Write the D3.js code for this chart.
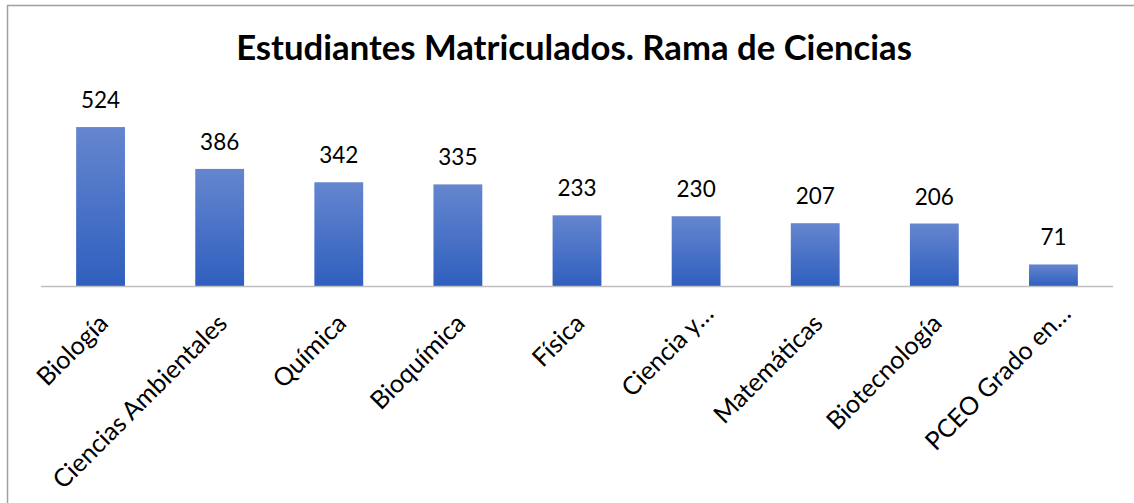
<!DOCTYPE html>
<html>
<head>
<meta charset="utf-8">
<script src="https://cdn.jsdelivr.net/npm/d3@7"></script>
<style>
  body { margin: 0; background: #fff; }
  text { font-family: Lato, "Open Sans", sans-serif; fill: #000; }
</style>
</head>
<body>
<div id="chart"></div>
<script>
// chart data
const categories = ["Biología", "Ciencias Ambientales", "Química", "Bioquímica", "Física",
                    "Ciencia y…", "Matemáticas", "Biotecnología", "PCEO Grado en…"];
const students = [524, 386, 342, 335, 233, 230, 207, 206, 71];
const chartTitle = "Estudiantes Matriculados. Rama de Ciencias";

const W = 1134, H = 503;
const margin = {top: 104, right: 21, bottom: 217, left: 41};

const svg = d3.select("#chart").append("svg")
    .attr("width", W)
    .attr("height", H);

// gradient fill like the spreadsheet bars
const grad = svg.append("defs").append("linearGradient")
    .attr("id", "barGrad")
    .attr("x1", 0).attr("y1", 0).attr("x2", 0).attr("y2", 1);
grad.append("stop").attr("offset", "0%").attr("stop-color", "#6586cf");
grad.append("stop").attr("offset", "100%").attr("stop-color", "#2f5fbe");

// chart area border
svg.append("rect")
    .attr("x", 7.5).attr("y", 5.5)
    .attr("width", W + 20).attr("height", H + 20)
    .attr("fill", "none")
    .attr("stroke", "#a0a0a0")
    .attr("stroke-width", 1.5);

const x = d3.scaleBand()
    .domain(categories)
    .range([margin.left, W - margin.right])
    .paddingInner(0.59)
    .paddingOuter(0.295);

const y = d3.scaleLinear()
    .domain([0, 600])
    .range([H - margin.bottom, margin.top]);

// title, fitted to the reference width
const title = svg.append("text")
    .attr("x", 574)
    .attr("y", 60)
    .attr("text-anchor", "middle")
    .style("font-weight", "bold")
    .style("font-size", "30px")
    .text(chartTitle);
const tw = title.node().getComputedTextLength();
title.style("font-size", (30 * 676 / tw) + "px");

// bars
svg.selectAll(".bar")
    .data(students)
  .enter().append("rect")
    .attr("class", "bar")
    .attr("x", (d, i) => x(categories[i]))
    .attr("y", d => y(d))
    .attr("width", x.bandwidth())
    .attr("height", d => y(0) - y(d))
    .attr("fill", "url(#barGrad)");

// value labels
svg.selectAll(".val")
    .data(students)
  .enter().append("text")
    .attr("class", "val")
    .attr("x", (d, i) => x(categories[i]) + x.bandwidth() / 2)
    .attr("y", d => y(d) - 19)
    .attr("text-anchor", "middle")
    .style("font-size", "22.5px")
    .text(d => d);

// category axis line
svg.append("line")
    .attr("x1", margin.left).attr("x2", W - margin.right)
    .attr("y1", y(0) + 0.5).attr("y2", y(0) + 0.5)
    .attr("stroke", "#bfbfbf")
    .attr("stroke-width", 1.5);

// rotated category labels (truncated ones sit a bit further out)
const labels = svg.selectAll(".cat")
    .data(categories)
  .enter().append("text")
    .attr("class", "cat")
    .attr("text-anchor", "end")
    .attr("transform", d => "translate(" + (x(d) + x.bandwidth() / 2 + 9) + "," + 325 + ") rotate(-45)")
    .attr("dx", d => d.endsWith("…") ? 14 : 0)
    .style("font-size", "20px")
    .text(d => d);

// size labels so the longest one matches the reference
const longest = labels.filter(d => d === "Ciencias Ambientales").node().getComputedTextLength();
labels.style("font-size", (20 * 234 / longest) + "px");
</script>
</body>
</html>
